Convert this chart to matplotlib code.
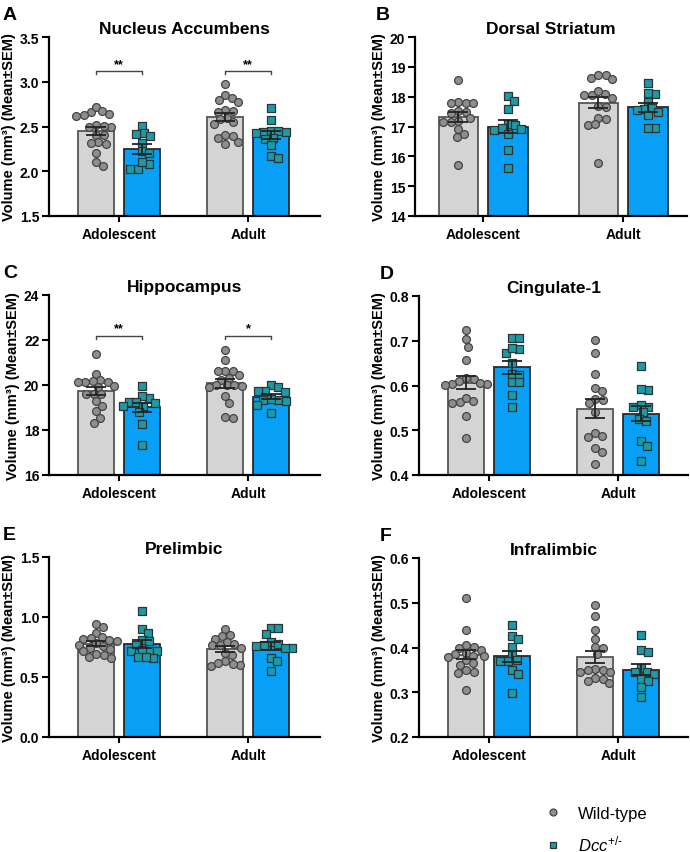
import numpy as np
import matplotlib.pyplot as plt
from matplotlib.lines import Line2D

plt.rcParams['font.family'] = ['Liberation Sans', 'DejaVu Sans']
plt.rcParams['mathtext.fontset'] = 'custom'
plt.rcParams['mathtext.rm'] = 'Liberation Sans'
plt.rcParams['mathtext.it'] = 'Liberation Sans:italic'

grupos = ['Adolescent', 'Adult']

# A - Nucleus Accumbens
nac_adol_wt = [2.66, 2.63, 2.72, 2.64, 2.67, 2.62, 2.52, 2.50, 2.49, 2.51, 2.41, 2.40, 2.33, 2.31, 2.32, 2.20, 2.06, 2.10]
nac_adol_dcc = [2.51, 2.43, 2.42, 2.32, 2.39, 2.23, 2.20, 2.08, 2.03, 2.03, 2.10]
nac_adult_wt = [2.97, 2.85, 2.82, 2.80, 2.77, 2.68, 2.67, 2.66, 2.60, 2.58, 2.55, 2.53, 2.40, 2.39, 2.37, 2.33, 2.31]
nac_adult_dcc = [2.71, 2.57, 2.45, 2.44, 2.45, 2.44, 2.43, 2.37, 2.36, 2.29, 2.17, 2.15]

# B - Dorsal Striatum
ds_adol_wt = [18.57, 17.8, 17.81, 17.79, 17.8, 17.52, 17.5, 17.45, 17.3, 17.2, 17.16, 17.14, 16.9, 16.75, 16.65, 15.72]
ds_adol_dcc = [18.02, 17.87, 17.58, 17.1, 17.05, 16.95, 16.9, 16.88, 16.75, 16.22, 15.6]
ds_adult_wt = [18.72, 18.6, 18.63, 18.73, 18.08, 18.05, 17.97, 18.04, 18.18, 17.65, 17.7, 17.3, 17.06, 17.07, 17.24, 15.79]
ds_adult_dcc = [18.46, 18.1, 18.11, 17.82, 17.6, 17.61, 17.55, 17.49, 17.37, 16.95, 16.96]

# C - Hippocampus
hip_adol_wt = [21.37, 20.51, 20.23, 20.15, 20.16, 20.14, 20.12, 19.96, 19.9, 19.62, 19.6, 19.59, 19.29, 19.07, 18.85, 18.55, 18.33]
hip_adol_dcc = [19.96, 19.44, 19.49, 19.25, 19.26, 19.2, 19.07, 19.05, 18.78, 18.26, 17.34]
hip_adult_wt = [21.57, 21.12, 20.63, 20.6, 20.62, 20.44, 20.33, 20.23, 20.0, 19.99, 19.98, 19.95, 19.9, 19.49, 19.19, 18.55, 18.56]
hip_adult_dcc = [19.99, 19.89, 19.75, 19.74, 19.7, 19.35, 19.36, 19.3, 19.34, 19.12, 18.75]

# D - Cingulate-1
cg1_adol_wt = [0.723, 0.703, 0.687, 0.657, 0.617, 0.615, 0.61, 0.604, 0.603, 0.605, 0.602, 0.563, 0.562, 0.565, 0.571, 0.532, 0.483]
cg1_adol_dcc = [0.707, 0.706, 0.682, 0.672, 0.683, 0.625, 0.65, 0.624, 0.608, 0.607, 0.578, 0.552]
cg1_adult_wt = [0.702, 0.673, 0.626, 0.595, 0.588, 0.569, 0.568, 0.56, 0.54, 0.493, 0.487, 0.486, 0.46, 0.451, 0.424]
cg1_adult_dcc = [0.644, 0.591, 0.592, 0.552, 0.553, 0.556, 0.54, 0.526, 0.52, 0.476, 0.465, 0.431]

# E - Prelimbic
pl_adol_wt = [0.94, 0.92, 0.87, 0.83, 0.82, 0.825, 0.80, 0.805, 0.78, 0.77, 0.76, 0.74, 0.73, 0.72, 0.69, 0.68, 0.66, 0.665]
pl_adol_dcc = [1.05, 0.90, 0.87, 0.81, 0.80, 0.77, 0.72, 0.725, 0.715, 0.72, 0.67, 0.66, 0.665]
pl_adult_wt = [0.90, 0.85, 0.84, 0.82, 0.79, 0.77, 0.775, 0.765, 0.74, 0.68, 0.70, 0.63, 0.60, 0.59, 0.62, 0.61]
pl_adult_dcc = [0.91, 0.905, 0.86, 0.79, 0.77, 0.775, 0.76, 0.74, 0.745, 0.66, 0.63, 0.55]

# F - Infralimbic
il_adol_wt = [0.511, 0.438, 0.405, 0.399, 0.395, 0.401, 0.388, 0.382, 0.385, 0.379, 0.38, 0.371, 0.365, 0.36, 0.345, 0.344, 0.35, 0.306]
il_adol_dcc = [0.45, 0.426, 0.418, 0.401, 0.384, 0.371, 0.37, 0.369, 0.35, 0.341, 0.299]
il_adult_wt = [0.495, 0.47, 0.44, 0.42, 0.40, 0.401, 0.385, 0.35, 0.351, 0.345, 0.346, 0.349, 0.33, 0.332, 0.32, 0.325]
il_adult_dcc = [0.429, 0.395, 0.39, 0.355, 0.345, 0.346, 0.34, 0.33, 0.325, 0.312, 0.289]

# Cores
COR_BARRA_WT = '#d4d4d4'
COR_BARRA_DCC = '#08a0f7'
COR_PONTO_WT = '#8e8e8e'
COR_PONTO_DCC = '#1e9aa6'

W, H = 690, 853

# letra, titulo, dados, ylim, yticks, formato, xlim, posicao (pixels: esquerda, topo, direita, base), colchetes
paineis = [
    ('A', 'Nucleus Accumbens', [nac_adol_wt, nac_adol_dcc, nac_adult_wt, nac_adult_dcc],
     (1.5, 3.5), np.arange(1.5, 3.51, 0.5), '%.1f', (-0.543, 1.558), (49, 38, 320, 217),
     [(0, 3.12, '**'), (1, 3.12, '**')]),
    ('B', 'Dorsal Striatum', [ds_adol_wt, ds_adol_dcc, ds_adult_wt, ds_adult_dcc],
     (14, 20), np.arange(14, 21, 1), '%d', (-0.486, 1.457), (415, 38, 687, 217), []),
    ('C', 'Hippocampus', [hip_adol_wt, hip_adol_dcc, hip_adult_wt, hip_adult_dcc],
     (16, 24), np.arange(16, 25, 2), '%d', (-0.543, 1.558), (49, 296, 320, 476),
     [(0, 22.2, '**'), (1, 22.2, '*')]),
    ('D', 'Cingulate-1', [cg1_adol_wt, cg1_adol_dcc, cg1_adult_wt, cg1_adult_dcc],
     (0.4, 0.8), np.arange(0.4, 0.81, 0.1), '%.1f', (-0.543, 1.543), (419, 297, 688, 476), []),
    ('E', 'Prelimbic', [pl_adol_wt, pl_adol_dcc, pl_adult_wt, pl_adult_dcc],
     (0.0, 1.5), np.arange(0.0, 1.51, 0.5), '%.1f', (-0.543, 1.558), (49, 558, 320, 738), []),
    ('F', 'Infralimbic', [il_adol_wt, il_adol_dcc, il_adult_wt, il_adult_dcc],
     (0.2, 0.6), np.arange(0.2, 0.61, 0.1), '%.1f', (-0.543, 1.543), (419, 559, 688, 738), []),
]

LARGURA_BARRA = 0.28
DESLOC = 0.178
DIAM_PX = 7.4


def enxame(ax, xc, valores):
    """Distribui os pontos na horizontal (beeswarm simples) em coordenadas de pixel."""
    pts = ax.transData.transform([(xc, v) for v in valores])
    x0 = pts[0, 0]
    ys = pts[:, 1]
    ordem = np.argsort(-ys)
    colocados = []
    xs = np.zeros(len(valores))
    for i in ordem:
        k = 0
        while True:
            desl = ((k + 1) // 2) * 0.5 * (1 if k % 2 else -1)
            ok = all((x0 + desl - px) ** 2 + (ys[i] - py) ** 2 >= DIAM_PX ** 2 for px, py in colocados)
            if ok:
                break
            k += 1
        colocados.append((x0 + desl, ys[i]))
        xs[i] = x0 + desl
    inv = ax.transData.inverted()
    return [inv.transform((x, y))[0] for x, y in zip(xs, ys)]


fig = plt.figure(figsize=(W / 100, H / 100), dpi=100)

for letra, titulo, dados, ylim, yticks, fmt, xlim, pos, colchetes in paineis:
    esq, topo, dir_, base = pos
    ax = fig.add_axes([esq / W, 1 - base / H, (dir_ - esq) / W, (base - topo) / H])
    ax.set_xlim(xlim)
    ax.set_ylim(ylim)

    for g in range(2):
        for s in range(2):
            vals = np.array(dados[2 * g + s])
            media = vals.mean()
            sem = vals.std(ddof=1) / np.sqrt(len(vals))
            xc = g + (DESLOC if s else -DESLOC)
            ax.bar(xc, media - ylim[0], bottom=ylim[0], width=LARGURA_BARRA,
                   color=COR_BARRA_DCC if s else COR_BARRA_WT,
                   edgecolor='#2a2a2a' if s else '#555555', linewidth=1.3, zorder=1)
            xs = enxame(ax, xc, vals)
            ax.scatter(xs, vals, s=32, marker='s' if s else 'o',
                       color=COR_PONTO_DCC if s else COR_PONTO_WT,
                       edgecolors='#2b3535' if s else '#444444', linewidths=0.9, zorder=3)
            ax.errorbar(xc, media, yerr=sem, color='#222222', elinewidth=1.3,
                        capsize=7, capthick=1.3, zorder=4)

    for g, y, estrelas in colchetes:
        dy = (ylim[1] - ylim[0]) * 0.017
        x1, x2 = g - DESLOC, g + DESLOC
        ax.plot([x1, x1, x2, x2], [y - dy, y, y, y - dy], color='#444444', lw=1.0)
        ax.text(g, y + dy * 0.3, estrelas, ha='center', va='bottom', fontsize=9, fontweight='bold')

    ax.set_title(titulo, fontsize=12.5, fontweight='bold', pad=3)
    ax.set_yticks(yticks)
    ax.set_yticklabels([fmt % t for t in yticks])
    ax.set_xticks([0, 1])
    ax.set_xticklabels(grupos)
    for rot in ax.get_xticklabels() + ax.get_yticklabels():
        rot.set_fontweight('bold')
        rot.set_fontsize(10)
    ax.tick_params(axis='both', width=1.5, length=5, direction='out', pad=2)
    ax.tick_params(axis='x', length=4, pad=4)
    ax.spines['top'].set_visible(False)
    ax.spines['right'].set_visible(False)
    ax.spines['left'].set_linewidth(1.6)
    ax.spines['bottom'].set_linewidth(1.6)
    ax.set_ylabel('Volume (mm³) (Mean±SEM)', fontsize=10.5, fontweight='bold', labelpad=3)

    fig.text((esq - 46) / W if letra in 'ACE' else (esq - 39) / W, 1 - (topo - 31) / H,
             letra, fontsize=14, fontweight='bold', va='top', ha='left')

# Legenda
handles = [
    Line2D([], [], marker='o', ls='', ms=5, mfc=COR_PONTO_WT, mec='#444444', mew=0.9),
    Line2D([], [], marker='s', ls='', ms=5, mfc=COR_PONTO_DCC, mec='#2b3535', mew=0.9),
]
fig.legend(handles, ['Wild-type', r'$\mathit{Dcc}^{\mathit{+/\text{-}}}$'], loc='upper left',
           bbox_to_anchor=(545 / W, 1 - 807 / H), frameon=False, fontsize=12,
           handlelength=1.0, handletextpad=1.0, labelspacing=0.75, borderpad=0, borderaxespad=0)

fig.savefig('out.png', dpi=100)
